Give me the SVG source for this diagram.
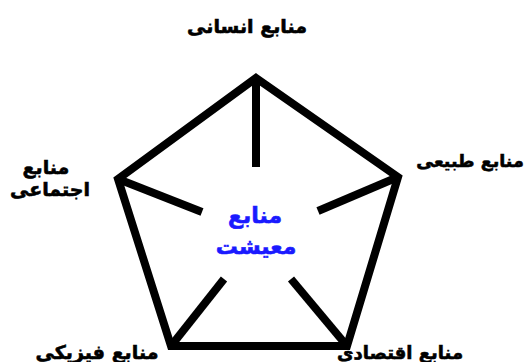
<svg xmlns="http://www.w3.org/2000/svg" width="529" height="362" viewBox="0 0 529 362">
<style>
.lbl{font-family:"DejaVu Sans","Noto Sans",sans-serif;font-weight:bold;font-size:19px;fill:#000;stroke:#000;stroke-width:0.6;text-anchor:middle}
.ctr{font-family:"DejaVu Sans","Noto Sans",sans-serif;font-weight:bold;font-size:22px;fill:#1a1aff;stroke:#1a1aff;stroke-width:0.6;text-anchor:middle}
.ln{fill:none;stroke:#000;stroke-width:8;stroke-linejoin:miter;stroke-linecap:butt}
</style>
<rect width="529" height="362" fill="#fff"/>
<g id="connectors">
<path class="ln" d="M256,78 L398,177 L347,346 L171,346 L118,179 Z"/>
<line class="ln" x1="256" y1="78" x2="256" y2="167"/>
<line class="ln" x1="118" y1="179" x2="202" y2="212"/>
<line class="ln" x1="398" y1="177" x2="318" y2="211"/>
<line class="ln" x1="171" y1="346" x2="224" y2="279"/>
<line class="ln" x1="347" y1="346" x2="291" y2="279"/>
</g>
<g id="node-human"><text class="lbl" x="247" y="33">منابع انسانی</text></g>
<g id="node-social"><text class="lbl" x="46" y="174">منابع</text><text class="lbl" x="50" y="196">اجتماعی</text></g>
<g id="node-natural"><text class="lbl" x="470" y="167" style="font-size:17.5px">منابع طبیعی</text></g>
<g id="node-physical"><text class="lbl" x="97" y="359">منابع فیزیکی</text></g>
<g id="node-economic"><text class="lbl" x="400" y="359" style="font-size:18px">منابع اقتصادی</text></g>
<g id="node-center"><text class="ctr" x="255" y="223">منابع</text><text class="ctr" x="256" y="254">معیشت</text></g>
</svg>
